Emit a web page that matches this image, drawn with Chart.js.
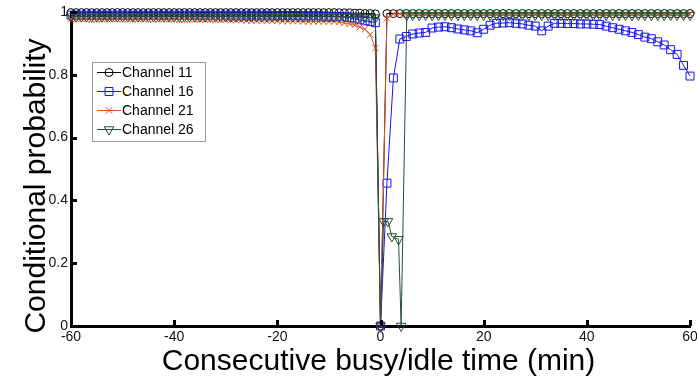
<!DOCTYPE html>
<html>
<head>
<meta charset="utf-8">
<script src="https://cdn.jsdelivr.net/npm/chart.js@4.4.1/dist/chart.umd.min.js"></script>
<style>
  html, body { margin: 0; padding: 0; background: #fff; }
  #wrap { width: 697px; height: 381px; }
</style>
</head>
<body>
<div id="wrap"><canvas id="chart" width="697" height="381"></canvas></div>
<script>
// time axis (minutes): before the event, and after it
var minutesBefore = [-60,-59,-58,-57,-56,-55,-54,-53,-52,-51,-50,-49,-48,-47,-46,-45,-44,-43,-42,-41,
  -40,-39,-38,-37,-36,-35,-34,-33,-32,-31,-30,-29,-28,-27,-26,-25,-24,-23,-22,-21,
  -20,-19,-18,-17,-16,-15,-14,-13,-12,-11,-10,-9,-8,-7,-6,-5,-4,-3,-2,-1];
var minutesAfter = [1.25,2.5,3.75,5,6.25,7.5,8.75,10,11.25,12.5,13.75,15,16.25,17.5,18.75,20,
  21.25,22.5,23.75,25,26.25,27.5,28.75,30,31.25,32.5,33.75,35,36.25,37.5,38.75,40,
  41.25,42.5,43.75,45,46.25,47.5,48.75,50,51.25,52.5,53.75,55,56.25,57.5,58.75,60];
var xTicks = [-60, -40, -20, 0, 20, 40, 60];
var yTicks = [0, 0.2, 0.4, 0.6, 0.8, 1];

var labels = ['Channel 11', 'Channel 16', 'Channel 21', 'Channel 26'];

// Channel 11
var ch11Before = [0.998,0.998,0.998,0.998,0.998,0.998,0.998,0.998,0.998,0.998,0.998,0.998,0.998,0.998,0.998,0.998,0.998,0.998,0.998,0.998,
  0.998,0.998,0.998,0.998,0.998,0.998,0.998,0.998,0.998,0.998,0.998,0.998,0.998,0.998,0.998,0.998,0.998,0.998,0.998,0.998,
  0.998,0.998,0.998,0.998,0.998,0.998,0.998,0.998,0.998,0.998,0.998,0.998,0.997,0.997,0.997,0.996,0.996,0.995,0.995,0.994];
var ch11After = [0.995,0.995,0.995,0.995,0.995,0.995,0.995,0.995,0.995,0.995,0.995,0.995,0.995,0.995,0.995,0.995,
  0.995,0.995,0.995,0.995,0.995,0.995,0.995,0.995,0.995,0.995,0.995,0.995,0.995,0.995,0.995,0.995,
  0.995,0.995,0.995,0.995,0.995,0.995,0.995,0.995,0.995,0.995,0.995,0.995,0.995,0.995,0.995,0.995];

// Channel 16
var ch16Before = [0.99,0.99,0.99,0.99,0.99,0.99,0.99,0.99,0.99,0.99,0.99,0.99,0.99,0.99,0.99,0.99,0.99,0.99,0.99,0.99,
  0.99,0.99,0.99,0.99,0.99,0.99,0.99,0.99,0.99,0.99,0.99,0.99,0.99,0.99,0.99,0.99,0.99,0.99,0.99,0.99,
  0.989,0.989,0.989,0.989,0.989,0.988,0.988,0.988,0.988,0.987,0.987,0.986,0.986,0.985,0.982,0.978,0.975,0.972,0.97,0.966];
var ch16After = [0.455,0.79,0.914,0.922,0.93,0.933,0.935,0.949,0.952,0.953,0.95,0.946,0.943,0.94,0.934,0.945,
  0.958,0.964,0.965,0.966,0.964,0.962,0.958,0.955,0.94,0.955,0.964,0.964,0.963,0.963,0.962,0.962,
  0.961,0.96,0.955,0.95,0.945,0.94,0.935,0.928,0.92,0.915,0.905,0.895,0.88,0.865,0.83,0.796];

// Channel 21
var ch21Before = [0.977,0.977,0.978,0.977,0.977,0.976,0.977,0.977,0.978,0.977,0.977,0.977,0.976,0.977,0.977,0.977,0.976,0.977,0.977,0.976,
  0.977,0.976,0.976,0.977,0.976,0.976,0.975,0.976,0.975,0.975,0.975,0.974,0.974,0.974,0.973,0.973,0.972,0.972,0.972,0.972,
  0.972,0.971,0.971,0.971,0.971,0.97,0.97,0.97,0.97,0.97,0.97,0.97,0.968,0.965,0.962,0.958,0.952,0.945,0.928,0.885];
var ch21After = [0.98,0.994,0.994,0.994,0.994,0.994,0.994,0.994,0.994,0.994,0.994,0.994,0.994,0.994,0.994,0.994,
  0.994,0.994,0.994,0.994,0.994,0.994,0.994,0.994,0.994,0.994,0.994,0.994,0.994,0.994,0.994,0.994,
  0.994,0.994,0.994,0.994,0.994,0.994,0.994,0.994,0.994,0.994,0.994,0.994,0.994,0.994,0.994,0.994];

// Channel 26
var ch26Before = [0.985,0.985,0.985,0.985,0.985,0.985,0.985,0.985,0.985,0.985,0.985,0.985,0.985,0.985,0.985,0.985,0.985,0.985,0.985,0.985,
  0.985,0.985,0.985,0.985,0.985,0.985,0.985,0.985,0.985,0.985,0.985,0.985,0.985,0.985,0.985,0.985,0.985,0.985,0.985,0.985,
  0.985,0.985,0.985,0.985,0.985,0.985,0.985,0.985,0.985,0.985,0.985,0.985,0.985,0.985,0.985,0.985,0.984,0.984,0.983,0.982];
var ch26EarlyTimes = [0.6, 1.45, 2.2, 3.5, 4, 5.1];
var ch26Early = [0.333, 0.333, 0.285, 0.276, 0, 0.99];
var ch26After = [null,null,null,null,0.99,0.99,0.99,0.99,0.99,0.99,0.99,0.99,0.99,0.99,0.99,0.99,
  0.99,0.99,0.99,0.99,0.99,0.99,0.99,0.99,0.99,0.99,0.99,0.99,0.99,0.99,0.99,0.99,
  0.99,0.99,0.99,0.99,0.99,0.99,0.99,0.99,0.99,0.99,0.99,0.99,0.99,0.99,0.99,0.99];

var colors = ['#000000', '#1414f0', '#e2521f', '#24503a'];

function buildPoints(before, after, extraTimes, extraVals) {
	var pts = [];
	for (var i = 0; i < minutesBefore.length; i++) pts.push({x: minutesBefore[i], y: before[i]});
	pts.push({x: 0, y: 0});
	if (extraTimes) {
		for (var k = 0; k < extraTimes.length; k++) pts.push({x: extraTimes[k], y: extraVals[k]});
	}
	for (var j = 0; j < minutesAfter.length; j++) {
		if (after[j] !== null) pts.push({x: minutesAfter[j], y: after[j]});
	}
	return pts;
}

var font = 'Arial, "Liberation Sans", sans-serif';
Chart.defaults.font.family = font;
Chart.defaults.color = '#000';

function makeSet(i, points, style, radius, rotation, order) {
	return {
		label: labels[i],
		data: points,
		borderColor: colors[i],
		borderWidth: 1,
		pointStyle: style,
		pointRadius: radius,
		pointRotation: rotation,
		pointBorderColor: colors[i],
		pointBackgroundColor: 'rgba(0,0,0,0)',
		pointBorderWidth: 1,
		tension: 0,
		clip: false,
		order: order
	};
}

var datasets = [
	makeSet(0, buildPoints(ch11Before, ch11After), 'circle', 4, 0, 3),
	makeSet(1, buildPoints(ch16Before, ch16After), 'rect', 5.6, 0, 2),
	makeSet(2, buildPoints(ch21Before, ch21After), 'crossRot', 4.5, 0, 1),
	makeSet(3, buildPoints(ch26Before, ch26After, ch26EarlyTimes, ch26Early), 'triangle', 5.5, 180, 0)
];

// inward tick marks, like the original plot
var innerTicks = {
	id: 'innerTicks',
	afterDraw: function(chart) {
		var ctx = chart.ctx, a = chart.chartArea;
		var xs = chart.scales.x, ys = chart.scales.y;
		ctx.save();
		ctx.strokeStyle = '#000';
		ctx.lineWidth = 3;
		ctx.beginPath();
		xTicks.forEach(function(v) {
			var px = Math.round(xs.getPixelForValue(v)) + 0.5;
			ctx.moveTo(px, a.bottom);
			ctx.lineTo(px, a.bottom - 6);
		});
		yTicks.forEach(function(v) {
			var py = Math.round(ys.getPixelForValue(v)) + 0.5;
			ctx.moveTo(a.left, py);
			ctx.lineTo(a.left + 6, py);
		});
		ctx.stroke();
		ctx.restore();
	}
};

// axis titles
var axisTitles = {
	id: 'axisTitles',
	afterDraw: function(chart) {
		var ctx = chart.ctx, a = chart.chartArea;
		ctx.save();
		ctx.fillStyle = '#000';
		ctx.font = '30px ' + font;
		ctx.textAlign = 'center';
		ctx.textBaseline = 'alphabetic';
		ctx.fillText('Consecutive busy/idle time (min)', (a.left + a.right) / 2 - 2, 370);
		ctx.translate(45, 186);
		ctx.rotate(-Math.PI / 2);
		ctx.fillText('Conditional probability', 0, 0);
		ctx.restore();
	}
};

// boxed legend inside the plot
var legendBox = {
	id: 'legendBox',
	afterDraw: function(chart) {
		var ctx = chart.ctx;
		ctx.save();
		ctx.fillStyle = '#fff';
		ctx.fillRect(92, 62, 113, 79);
		ctx.strokeStyle = '#9a9a9a';
		ctx.lineWidth = 1;
		ctx.strokeRect(92.5, 62.5, 113, 79);
		ctx.font = '14px ' + font;
		ctx.textAlign = 'left';
		ctx.textBaseline = 'middle';
		chart.data.datasets.forEach(function(ds, i) {
			var y = 72 + i * 19;
			ctx.strokeStyle = ds.borderColor;
			ctx.lineWidth = 1;
			ctx.beginPath();
			ctx.moveTo(97, y + 0.5);
			ctx.lineTo(121, y + 0.5);
			ctx.stroke();
			ctx.fillStyle = 'rgba(0,0,0,0)';
			Chart.helpers.drawPoint(ctx, {
				pointStyle: ds.pointStyle,
				radius: ds.pointRadius,
				rotation: ds.pointRotation,
				borderWidth: 1
			}, 109, y + 0.5);
			ctx.fillStyle = '#000';
			ctx.fillText(ds.label, 122, y + 1);
		});
		ctx.restore();
	}
};

new Chart(document.getElementById('chart'), {
	type: 'line',
	data: { datasets: datasets },
	options: {
		responsive: false,
		animation: false,
		events: [],
		layout: { padding: { top: 12, right: 7, left: 0, bottom: 0 } },
		plugins: { legend: { display: false }, tooltip: { enabled: false } },
		scales: {
			x: {
				type: 'linear',
				min: -60,
				max: 60,
				grid: { drawOnChartArea: false, drawTicks: false },
				border: { display: true, width: 3, color: '#000' },
				ticks: {
					stepSize: 20,
					autoSkip: false,
					maxRotation: 0,
					padding: 3,
					font: { size: 14 },
					color: '#111'
				},
				afterFit: function(s) { s.height = 55; s.paddingLeft = 0; s.paddingRight = 0; }
			},
			y: {
				min: 0,
				max: 1,
				grid: { drawOnChartArea: false, drawTicks: false },
				border: { display: true, width: 3, color: '#000' },
				ticks: {
					stepSize: 0.2,
					padding: 3,
					font: { size: 14 },
					color: '#111',
					callback: function(v) { return String(Math.round(v * 10) / 10); }
				},
				afterFit: function(s) { s.width = 71; s.paddingTop = 0; s.paddingBottom = 0; }
			}
		}
	},
	plugins: [innerTicks, axisTitles, legendBox]
});
</script>
</body>
</html>
